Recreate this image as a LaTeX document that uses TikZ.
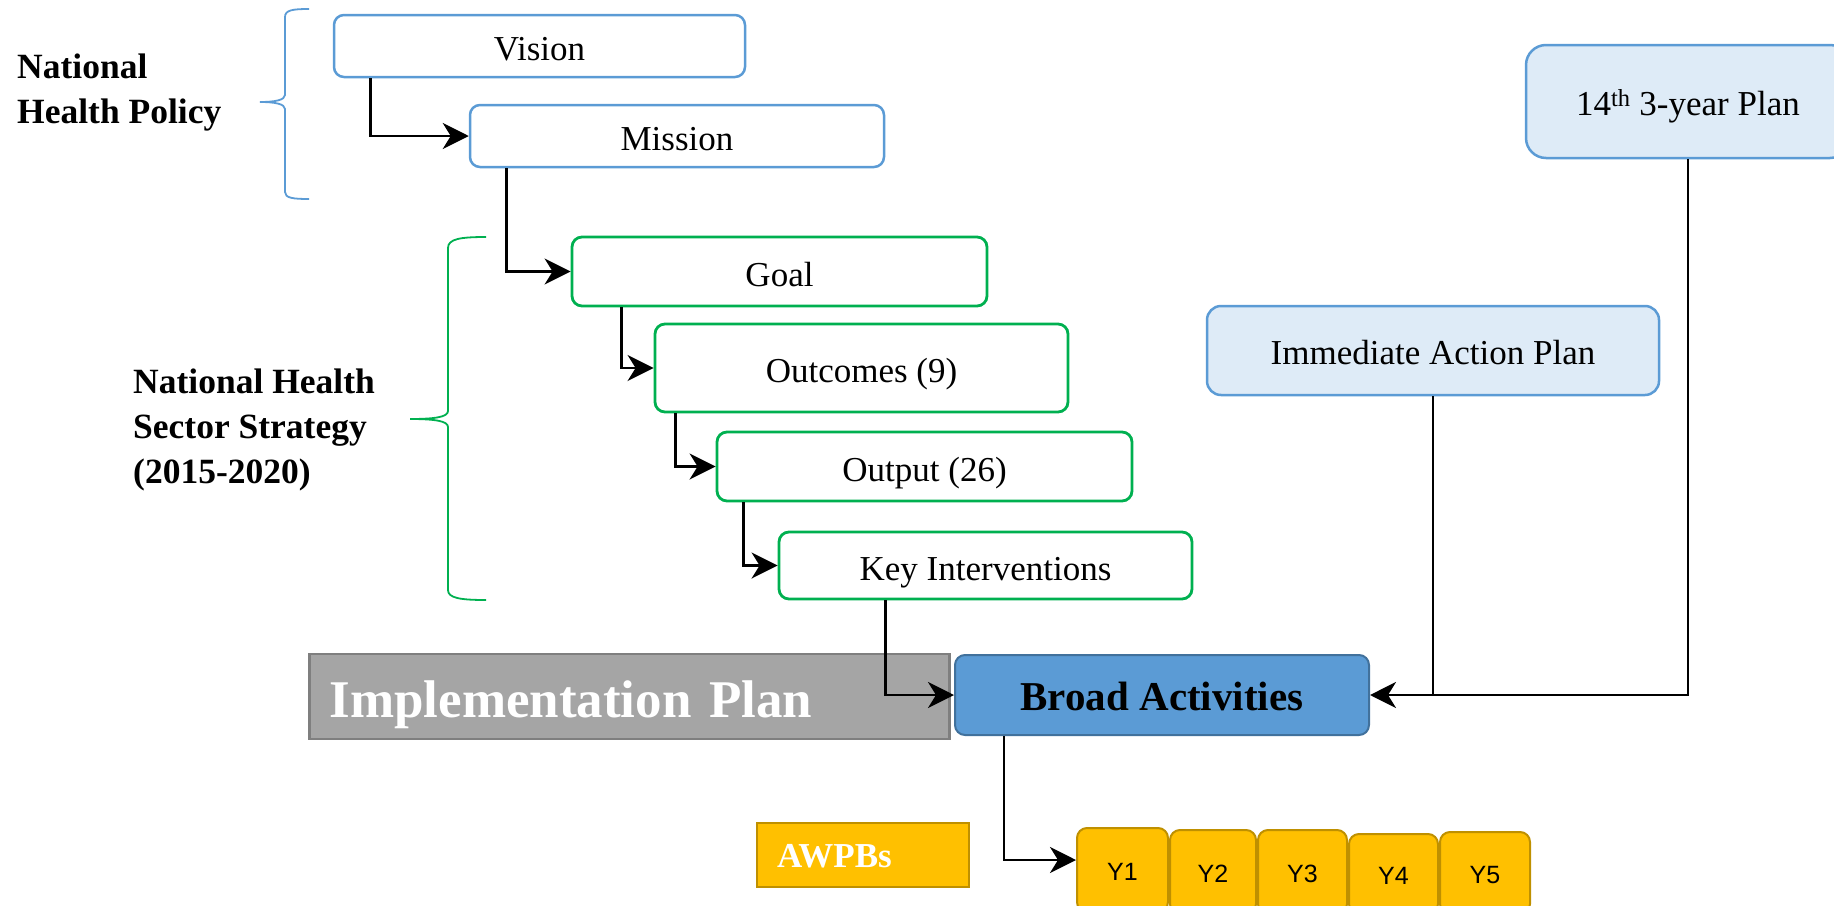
\documentclass[tikz,border=0pt]{standalone}
\usepackage{fontspec}
\setmainfont{Liberation Serif}
\newfontfamily\ysans{Liberation Sans}
\usetikzlibrary{arrows.meta,calc}
\definecolor{bblue}{HTML}{5B9BD5}
\definecolor{bgreen}{HTML}{00B050}
\definecolor{lblue}{HTML}{DEEBF7}
\definecolor{dblue}{HTML}{41719C}
\definecolor{gfill}{HTML}{A5A5A5}
\definecolor{gdraw}{HTML}{7F7F7F}
\definecolor{gold}{HTML}{FFC000}
\definecolor{dgold}{HTML}{BF9000}
\tikzset{
  bluebox/.style={draw=bblue,line width=2.5pt,rounded corners=10pt,inner sep=0pt,
    text height=31pt,text depth=2pt,font=\fontsize{35}{42}\selectfont},
  greenbox/.style={draw=bgreen,line width=2.8pt,rounded corners=10pt,inner sep=0pt,
    text height=31pt,text depth=2pt,font=\fontsize{35}{42}\selectfont},
  planbox/.style={draw=bblue,fill=lblue,line width=2.5pt,inner sep=0pt,
    text height=31pt,text depth=3pt,font=\fontsize{35}{42}\selectfont},
  ybox/.style={draw=dgold,fill=gold,line width=2pt,rounded corners=10pt,inner sep=0pt,
    text height=20pt,text depth=0pt,font=\ysans\fontsize{25}{30}\selectfont},
  arr/.style={line width=2.6pt,-{Stealth[length=26pt,width=26pt,inset=8pt]}},
  conn/.style={line width=2.6pt},
  lbl/.style={font=\bfseries\fontsize{35.5}{45}\selectfont,align=left,inner sep=0pt,anchor=west},
}
\begin{document}
\begin{tikzpicture}[x=1pt,y=-1pt]
\useasboundingbox (0,0) rectangle (1834,905);
% boxes
\node[bluebox,minimum width=411pt,minimum height=62pt] (vision) at (539.5,46) {Vision};
\node[bluebox,minimum width=414pt,minimum height=62pt] (mission) at (677,136) {Mission};
\node[greenbox,minimum width=415pt,minimum height=69pt] (goal) at (779.5,271.5) {Goal};
\node[greenbox,minimum width=413pt,minimum height=88pt] (outc) at (861.5,368) {Outcomes (9)};
\node[greenbox,minimum width=415pt,minimum height=69pt] (outp) at (924.5,466.5) {Output (26)};
\node[greenbox,minimum width=413pt,minimum height=67pt] (keyi) at (985.5,565.5) {Key Interventions};
\node[draw=gdraw,fill=gfill,line width=2.5pt,text width=600pt,align=left,inner xsep=20pt,
  inner ysep=0pt,minimum height=85pt,text height=43pt,text depth=2pt,text=white,
  font=\bfseries\fontsize{53}{60}\selectfont]
  (impl) at (629.5,696.5) {Implementation Plan};
\node[draw=dblue,fill=bblue,line width=2pt,rounded corners=10pt,minimum width=414pt,
  minimum height=80pt,inner sep=0pt,text height=33pt,text depth=2pt,
  font=\bfseries\fontsize{41}{48}\selectfont]
  (broad) at (1162,695) {Broad Activities};
\node[planbox,rounded corners=14pt,minimum width=452pt,minimum height=89pt] (iap) at (1433,350.5) {Immediate Action Plan};
\node[planbox,rounded corners=20pt,minimum width=324pt,minimum height=113pt] (p14) at (1688,101.5) {14\textsuperscript{th} 3-year Plan};
\node[draw=dgold,fill=gold,line width=2pt,text width=172pt,align=left,inner xsep=20pt,
  inner ysep=0pt,minimum height=64pt,text height=27pt,text depth=2pt,text=white,
  font=\bfseries\fontsize{35}{40}\selectfont]
  (awpb) at (863,855) {AWPBs};
\node[ybox,minimum width=91pt,minimum height=84pt] (y1) at (1122.5,870) {Y1};
\node[ybox,minimum width=86pt,minimum height=84pt] (y2) at (1213,872) {Y2};
\node[ybox,minimum width=89pt,minimum height=84pt] (y3) at (1302.5,872) {Y3};
\node[ybox,minimum width=89pt,minimum height=80pt] (y4) at (1393.5,874) {Y4};
\node[ybox,minimum width=90pt,minimum height=82pt] (y5) at (1485,873) {Y5};
% labels
\node[lbl] (nhp) at (17,92.5) {National\\Health Policy};
\node[lbl] (nhss) at (133,430) {National Health\\Sector Strategy\\(2015-2020)};
% braces
\draw[bblue,line width=1.8pt] (309,9) .. controls (293,9) and (285,10) .. (285,17) -- (285,95)
  .. controls (285,100) and (275,102) .. (260,102) .. controls (275,102) and (285,104) .. (285,109)
  -- (285,192) .. controls (285,198) and (293,199) .. (309,199);
\draw[bgreen,line width=1.8pt] (486,237) .. controls (460,237) and (448,239) .. (448,248) -- (448,411)
  .. controls (448,417) and (435,419) .. (410,419) .. controls (435,419) and (448,421) .. (448,427)
  -- (448,590) .. controls (448,598) and (460,600) .. (486,600);
% connectors
\draw[arr] ($(vision.south west)+(38,0)$) |- (mission.west);
\draw[arr] ($(mission.south west)+(38,0)$) |- (goal.west);
\draw[arr] ($(goal.south west)+(51,0)$) |- (outc.west);
\draw[arr] ($(outc.south west)+(22,0)$) |- (outp.west);
\draw[arr] ($(outp.south west)+(28,0)$) |- (keyi.west);
\draw[arr] ($(keyi.south west)+(108,0)$) |- (broad.west);
\coordinate (jn) at (iap.south |- broad.east);
\draw[conn] (p14.south) |- (jn);
\draw[arr] (iap.south) |- (broad.east);
\draw[arr] ($(broad.south west)+(50,0)$) |- ([yshift=10pt]y1.west);
\end{tikzpicture}
\end{document}
